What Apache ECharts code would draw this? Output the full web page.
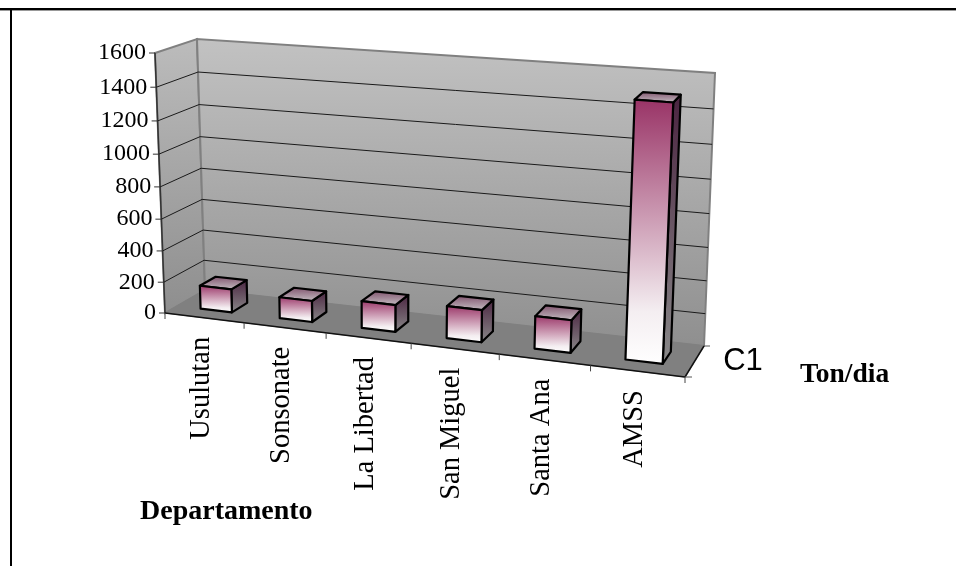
<!DOCTYPE html>
<html>
<head>
<meta charset="utf-8">
<style>html,body{margin:0;padding:0;background:#fff}#chart{width:956px;height:566px}</style>
<script src="https://cdn.jsdelivr.net/npm/echarts@6/dist/echarts.min.js"></script>
</head>
<body>
<div id="chart"></div>
<script>
// Solid waste per department, tons per day
const categories = ['Usulutan', 'Sonsonate', 'La Libertad', 'San Miguel', 'Santa Ana', 'AMSS'];
const tonsPerDay = [150, 135, 170, 200, 200, 1500];
const yTicks = [0, 200, 400, 600, 800, 1000, 1200, 1400, 1600];
const seriesName = 'C1';
const yAxisTitle = 'Ton/dia';
const xAxisTitle = 'Departamento';

// Screen corners of the 3D box: floor plane and ceiling plane,
// ordered front-left, front-right, back-right, back-left.
const FLOOR = [[165, 313], [685, 377], [704, 346], [205, 290]];
const CEIL = [[155, 53], [698, 92], [715, 73], [197, 39]];

function homography(q) {
  const [[x0, y0], [x1, y1], [x2, y2], [x3, y3]] = q;
  const dx1 = x1 - x2, dx2 = x3 - x2, sx = x0 - x1 + x2 - x3;
  const dy1 = y1 - y2, dy2 = y3 - y2, sy = y0 - y1 + y2 - y3;
  const det = dx1 * dy2 - dx2 * dy1;
  const g = (sx * dy2 - dx2 * sy) / det, h = (dx1 * sy - sx * dy1) / det;
  const a = x1 - x0 + g * x1, b = x3 - x0 + h * x3, d = y1 - y0 + g * y1, e = y3 - y0 + h * y3;
  return (u, w) => {
    const k = g * u + h * w + 1;
    return [(a * u + b * w + x0) / k, (d * u + e * w + y0) / k];
  };
}
const floorAt = homography(FLOOR), ceilAt = homography(CEIL);

// Projects (across, up, depth), each in 0..1, on to the screen.
function project(u, v, w) {
  const s = u + 0.08 * u * (1 - u);
  const p = floorAt(s, w), q = ceilAt(s, w);
  const t = v - 0.06 * v * (1 - v);
  return [p[0] + (q[0] - p[0]) * t, p[1] + (q[1] - p[1]) * t];
}

// Grid pixels to box fractions, so the axis scales drive every mark.
const toU = (x, r) => (x - r.x) / r.width;
const toV = (y, r) => (r.y + r.height - y) / r.height;

const vGrad = (stops) => ({
  type: 'linear', x: 0, y: 0, x2: 0, y2: 1,
  colorStops: stops.map(([offset, color]) => ({ offset, color }))
});
const poly = (points, style) => ({ type: 'polygon', shape: { points }, style });
const line = (a, b, stroke, lineWidth) => ({
  type: 'line', shape: { x1: a[0], y1: a[1], x2: b[0], y2: b[1] }, style: { stroke, lineWidth, fill: null }
});
const SERIF = '"Liberation Serif", serif';

function renderWalls() {
  const edge = '#808080';
  const bl = project(0, 0, 1), br = project(1, 0, 1), tl = project(0, 1, 1), tr = project(1, 1, 1);
  const fl = project(0, 0, 0), fr = project(1, 0, 0), ftl = project(0, 1, 0);
  return {
    type: 'group',
    children: [
      poly([fl, ftl, tl, bl], { fill: vGrad([[0, '#bcbcbc'], [1, '#8e8e8e']]), stroke: edge, lineWidth: 2 }),
      poly([bl, tl, tr, br], { fill: vGrad([[0, '#c2c2c2'], [1, '#8f8f8f']]), stroke: edge, lineWidth: 2 }),
      poly([fl, bl, br, fr], { fill: '#808080', stroke: '#808080', lineWidth: 1 }),
      line(fl, ftl, '#333333', 1.5),
      line(fl, fr, '#111111', 1.5),
      line(fr, br, '#111111', 1.5),
      line(br, [br[0] + 6, br[1]], '#555555', 1),
      line(fr, [fr[0] + 7, fr[1]], '#555555', 1)
    ]
  };
}

function renderGridTick(params, api) {
  const r = params.coordSys;
  const value = api.value(1);
  const v = toV(api.coord([0, value])[1], r);
  const a = project(0, v, 0), b = project(0, v, 1), c = project(1, v, 1);
  const children = [
    line([a[0] - 6, a[1]], a, '#333333', 1),
    {
      type: 'text', x: a[0] - 9, y: a[1],
      style: { text: String(value), font: '24px ' + SERIF, fill: '#000', align: 'right', verticalAlign: 'middle' }
    }
  ];
  if (value > yTicks[0] && value < yTicks[yTicks.length - 1]) {
    children.unshift(
      { type: 'polyline', shape: { points: [a, b, c] }, style: { stroke: '#1a1a1a', lineWidth: 1, fill: null } }
    );
  }
  return { type: 'group', children };
}

function renderCategory(params, api) {
  const r = params.coordSys;
  const i = api.value(0);
  const band = api.size([1, 0])[0] / r.width;
  const u = toU(api.coord([i, 0])[0], r);
  const tick = project(u + band / 2, 0, 0);
  const first = project(u - band / 2, 0, 0);
  const mid = project(u, 0, 0);
  const children = [
    line(tick, [tick[0], tick[1] + 6], '#444444', 1),
    {
      type: 'text', x: mid[0] - 3, y: mid[1] + 19, rotation: Math.PI / 2,
      style: { text: categories[i], font: '28.5px ' + SERIF, fill: '#000', align: 'right', verticalAlign: 'middle' }
    }
  ];
  if (i === 0) children.push(line(first, [first[0], first[1] + 6], '#444444', 1));
  return { type: 'group', children };
}

function renderBar(params, api) {
  const r = params.coordSys;
  const i = api.value(0);
  const band = api.size([1, 0])[0] / r.width;
  const u = toU(api.coord([i, 0])[0], r);
  const v = toV(api.coord([i, api.value(1)])[1], r);
  const u0 = u - band * 0.2, u1 = u + band * 0.2, w0 = 0.3, w1 = 0.7;
  const fbl = project(u0, 0, w0), fbr = project(u1, 0, w0), bbr = project(u1, 0, w1);
  const ftl = project(u0, v, w0), ftr = project(u1, v, w0), btr = project(u1, v, w1), btl = project(u0, v, w1);
  const stroke = { stroke: '#000', lineWidth: 2.2, lineJoin: 'round' };
  return {
    type: 'group',
    children: [
      poly([ftr, btr, bbr, fbr], Object.assign({ fill: vGrad([[0, '#4a2440'], [1, '#8a8a8a']]) }, stroke)),
      poly([ftl, ftr, btr, btl], Object.assign({ fill: vGrad([[0, '#7d4f6a'], [1, '#c8c2c6']]) }, stroke)),
      poly([fbl, ftl, ftr, fbr], Object.assign({ fill: vGrad([[0, '#993366'], [0.8, '#f4eef1'], [1, '#ffffff']]) }, stroke))
    ]
  };
}

const chart = echarts.init(document.getElementById('chart'), null, { renderer: 'canvas' });
chart.setOption({
  animation: false,
  backgroundColor: '#ffffff',
  grid: { left: 165, top: 53, width: 520, height: 260 },
  xAxis: { type: 'category', data: categories, show: false },
  yAxis: { type: 'value', min: 0, max: 1600, interval: 200, show: false },
  series: [
    { type: 'custom', name: 'walls', clip: false, silent: true, z: 1, data: [[0, 0]], renderItem: renderWalls },
    { type: 'custom', name: 'grid', clip: false, silent: true, z: 2, data: yTicks.map((t) => [0, t]), renderItem: renderGridTick },
    { type: 'custom', name: 'categories', clip: false, silent: true, z: 3, data: categories.map((c, i) => [i, 0]), renderItem: renderCategory },
    { type: 'custom', name: seriesName, clip: false, silent: true, z: 4, data: tonsPerDay.map((t, i) => [i, t]), renderItem: renderBar }
  ],
  graphic: { elements: [
    { type: 'line', z: 10, shape: { x1: 0, y1: 10.5, x2: 956, y2: 10.5 }, style: { stroke: '#999999', lineWidth: 1 } },
    { type: 'line', z: 11, shape: { x1: 0, y1: 9, x2: 956, y2: 9 }, style: { stroke: '#000000', lineWidth: 2 } },
    { type: 'line', z: 11, shape: { x1: 11, y1: 8, x2: 11, y2: 566 }, style: { stroke: '#000000', lineWidth: 2 } },
    { type: 'text', z: 10, x: 743, y: 361, style: { text: seriesName, font: '31px "Liberation Sans", sans-serif', fill: '#000', align: 'center', verticalAlign: 'middle' } },
    { type: 'text', z: 10, x: 800, y: 375, style: { text: yAxisTitle, font: 'bold 27.5px ' + SERIF, fill: '#000', align: 'left', verticalAlign: 'middle' } },
    { type: 'text', z: 10, x: 140, y: 512, style: { text: xAxisTitle, font: 'bold 28px ' + SERIF, fill: '#000', align: 'left', verticalAlign: 'middle' } }
  ] }
});
</script>
</body>
</html>
